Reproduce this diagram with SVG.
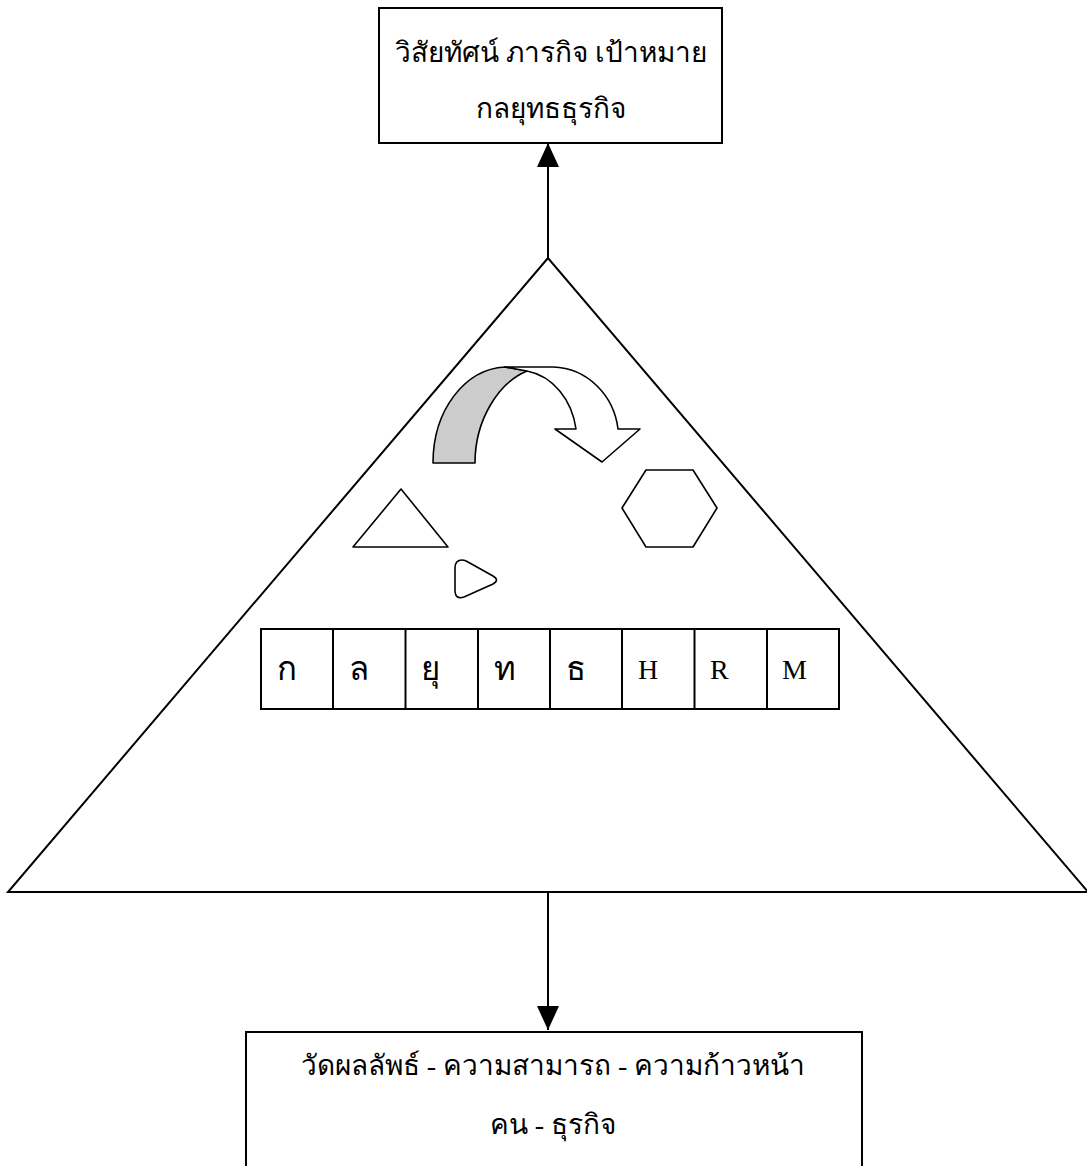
<svg xmlns="http://www.w3.org/2000/svg" width="1087" height="1166" viewBox="0 0 1087 1166">
<defs>
<style>
.box{fill:#fff;stroke:#000;stroke-width:2}
.ln{fill:none;stroke:#000;stroke-width:2}
.sh{fill:#fff;stroke:#000;stroke-width:1.6;stroke-linejoin:round}
.t{font-family:"Liberation Serif","DejaVu Serif",serif;font-size:28px;fill:#000;text-anchor:middle}
.c{font-family:"Liberation Serif","DejaVu Serif",serif;font-size:28px;fill:#000}
.th{font-size:33px}
</style>
</defs>
<rect width="1087" height="1166" fill="#fff"/>
<g id="connectors">
<line class="ln" x1="548" y1="258" x2="548" y2="143"/>
<path d="M537,167 L548,143 L559,167 Z" fill="#000"/>
<line class="ln" x1="548" y1="892" x2="548" y2="1030"/>
<path d="M537,1006 L548,1030 L559,1006 Z" fill="#000"/>
</g>
<g id="top-box">
<rect class="box" x="379" y="8" width="343" height="135"/>
<text class="t" x="551" y="62">วิสัยทัศน์ ภารกิจ เป้าหมาย</text>
<text class="t" x="551" y="118">กลยุทธธุรกิจ</text>
</g>
<g id="pyramid">
<polygon class="ln" points="548,258 8,892 1088,892"/>
</g>
<g id="curved-arrow">
<path d="M433,463 C433,410 465,369 505,367 L527,371 C500,382 475,418 475,463 Z" fill="#cccccc" stroke="#000" stroke-width="1.6" stroke-linejoin="round"/>
<path class="sh" d="M505,367 L553,367 C588,368 614,396 618,429 L640,429 L602,462 L555,429 L576,429 C572,400 553,376 527,371 Z"/>
</g>
<g id="triangle-shape">
<polygon class="sh" points="401,489 353,547 448,547"/>
</g>
<g id="hexagon-shape">
<polygon class="sh" points="622,508 646,470 693,470 717,508 693,547 646,547"/>
</g>
<g id="rounded-triangle-shape">
<path class="sh" d="M462,560 Q455,560 455,568 L455,590 Q455,600 464,597 L493,584 Q500,580 493,576 L468,562 Q465,560 462,560 Z"/>
</g>
<g id="letter-row">
<rect class="box" x="261" y="629" width="578" height="80"/>
<line class="ln" x1="333" y1="629" x2="333" y2="709"/>
<line class="ln" x1="405.5" y1="629" x2="405.5" y2="709"/>
<line class="ln" x1="478" y1="629" x2="478" y2="709"/>
<line class="ln" x1="550" y1="629" x2="550" y2="709"/>
<line class="ln" x1="622" y1="629" x2="622" y2="709"/>
<line class="ln" x1="694.5" y1="629" x2="694.5" y2="709"/>
<line class="ln" x1="767" y1="629" x2="767" y2="709"/>
<text class="c th" x="277" y="680">ก</text>
<text class="c th" x="349" y="680">ล</text>
<text class="c th" x="421" y="680">ยุ</text>
<text class="c th" x="494" y="680">ท</text>
<text class="c th" x="566" y="680">ธ</text>
<text class="c" x="638" y="679">H</text>
<text class="c" x="710" y="679">R</text>
<text class="c" x="782" y="679">M</text>
</g>
<g id="bottom-box">
<rect class="box" x="246" y="1032" width="616" height="140"/>
<text class="t" x="553" y="1075">วัดผลลัพธ์ - ความสามารถ - ความก้าวหน้า</text>
<text class="t" x="553" y="1134">คน - ธุรกิจ</text>
</g>
</svg>
